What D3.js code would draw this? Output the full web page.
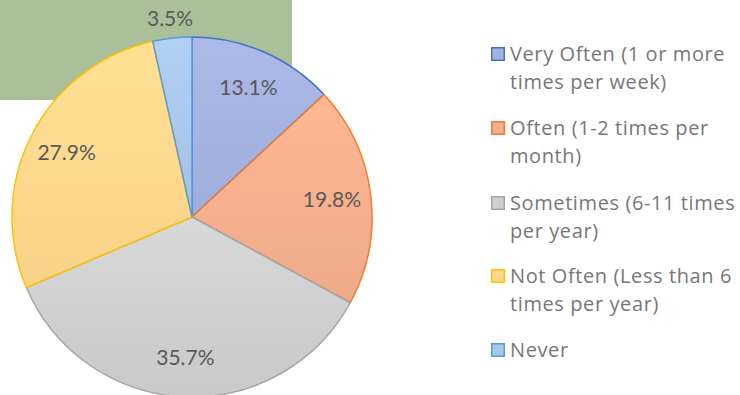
<!DOCTYPE html>
<html>
<head>
<meta charset="utf-8">
<script src="https://cdn.jsdelivr.net/npm/d3@7"></script>
<style>
  html, body { margin: 0; padding: 0; background: #fff; }
  svg { display: block; }
</style>
</head>
<body>
<svg id="chart" width="740" height="395"></svg>
<script>
// Frequency categories and their share of responses (%)
const categories = [
  "Very Often (1 or more times per week)",
  "Often (1-2 times per month)",
  "Sometimes (6-11 times per year)",
  "Not Often (Less than 6 times per year)",
  "Never"
];
const legendLines = [
  ["Very Often (1 or more", "times per week)"],
  ["Often (1-2 times per", "month)"],
  ["Sometimes (6-11 times", "per year)"],
  ["Not Often (Less than 6", "times per year)"],
  ["Never"]
];
const values = [13.1, 19.8, 35.7, 27.9, 3.5];
const valueLabels = ["13.1%", "19.8%", "35.7%", "27.9%", "3.5%"];

const fills   = ["#A4B2DF", "#F5AF8E", "#CFCFCF", "#FFD88E", "#A9C7EA"];
const strokes = ["#4472C4", "#ED7D31", "#A5A5A5", "#FFC000", "#5B9BD5"];

const svg = d3.select("#chart");
const defs = svg.append("defs");

// Soft vertical gradient for each slice
fills.forEach((c, i) => {
  const g = defs.append("linearGradient")
    .attr("id", "grad" + i)
    .attr("x1", 0).attr("y1", 0).attr("x2", 0).attr("y2", 1);
  g.append("stop").attr("offset", "0%").attr("stop-color", d3.color(c).brighter(0.12));
  g.append("stop").attr("offset", "100%").attr("stop-color", d3.color(c).darker(0.08));
});

// Shaded backdrop panel at the top left
svg.append("rect")
  .attr("x", 0).attr("y", 0)
  .attr("width", 292).attr("height", 100)
  .attr("fill", "#A9C09A");

const cx = 192, cy = 217, r = 180;

const pie = d3.pie().sort(null).value(d => d)(values);
const arc = d3.arc().innerRadius(0).outerRadius(r);

const g = svg.append("g").attr("transform", `translate(${cx},${cy})`);

g.selectAll("path.slice")
  .data(pie)
  .join("path")
  .attr("class", "slice")
  .attr("d", arc)
  .attr("fill", (d, i) => `url(#grad${i})`)
  .attr("stroke", (d, i) => strokes[i])
  .attr("stroke-width", 1.5)
  .attr("stroke-linejoin", "round");

// Data labels: inside for large slices, just beyond the rim for small ones
const inner = d3.arc().innerRadius(141).outerRadius(141);
const outer = d3.arc().innerRadius(r + 20).outerRadius(r + 20);

g.selectAll("text.lbl")
  .data(pie)
  .join("text")
  .attr("class", "lbl")
  .attr("transform", d => {
    const p = (d.data < 5 ? outer : inner).centroid(d);
    return `translate(${p[0]},${p[1]})`;
  })
  .attr("text-anchor", "middle")
  .attr("dy", "0.36em")
  .attr("font-family", "Lato, 'Open Sans', sans-serif")
  .attr("font-size", 21)
  .attr("fill", "#595959")
  .text((d, i) => valueLabels[i]);

// Legend
const legend = svg.append("g").attr("transform", "translate(491,0)");
const itemY = [54, 128, 203, 276, 350];
const lineH = 28;

const items = legend.selectAll("g.item")
  .data(categories)
  .join("g")
  .attr("class", "item")
  .attr("transform", (d, i) => `translate(0,${itemY[i]})`);

items.append("rect")
  .attr("x", 0.75).attr("y", -6.25)
  .attr("width", 12.5).attr("height", 12.5)
  .attr("fill", (d, i) => fills[i])
  .attr("stroke", (d, i) => strokes[i])
  .attr("stroke-width", 1.5);

items.each(function(d, i) {
  const t = d3.select(this).append("text")
    .attr("font-family", "'Open Sans', Lato, sans-serif")
    .attr("font-size", 20)
    .attr("letter-spacing", 0.6)
    .attr("fill", "#777777");
  legendLines[i].forEach((line, j) => {
    t.append("tspan")
      .attr("x", 19)
      .attr("y", j * lineH)
      .attr("dy", "0.36em")
      .text(line);
  });
});
</script>
</body>
</html>
